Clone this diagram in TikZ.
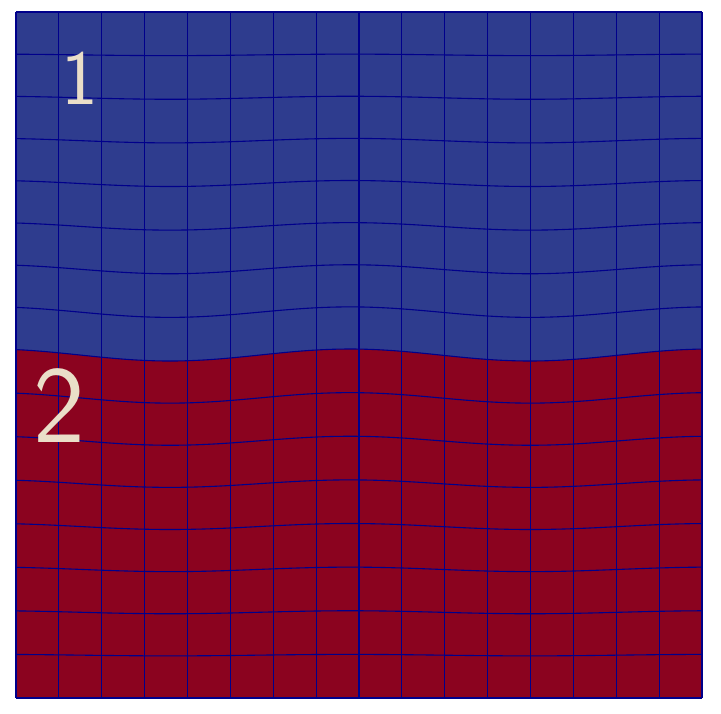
\documentclass[tikz,border=0pt]{standalone}
\usetikzlibrary{calc}
\definecolor{upperblue}{RGB}{46,60,142}
\definecolor{lowerred}{RGB}{139,3,31}
\definecolor{meshline}{RGB}{0,0,139}
\definecolor{chalk}{RGB}{234,222,200}
\tikzset{
  meshln/.style = {draw=meshline, line width=1.1pt},
  digit/.style  = {text=chalk, inner sep=0pt, font=\sffamily},
}
\begin{document}
\begin{tikzpicture}[x=1pt,y=-1pt]
\useasboundingbox (0,0) rectangle (721,713);
% the two layers, split by a wavy interface
\fill[upperblue] (16,12) -- (702,12) -- plot[domain=702:16,samples=90] (\x,{355+6*cos(\x-170)}) -- cycle;
\fill[lowerred] (16,698) -- (702,698) -- plot[domain=702:16,samples=90] (\x,{355+6*cos(\x-170)}) -- cycle;
% mesh rows
\foreach \j [evaluate=\j as \a using {0.75*(8-abs(\j-8))}] in {0,...,16}
  \draw[meshln] plot[domain=16:702,samples=90] (\x,{698-42.875*\j+\a*cos(\x-170)});
% mesh columns
\foreach \i in {0,...,16}
  \draw[meshln] ({16+42.875*\i},12) -- ({16+42.875*\i},698);
% layer labels
\node[digit,font=\sffamily\fontsize{78}{78}\selectfont] (one) at (80,78) {1};
\node[digit,font=\sffamily\fontsize{110}{110}\selectfont] (two) at (59,406) {2};
\end{tikzpicture}
\end{document}
